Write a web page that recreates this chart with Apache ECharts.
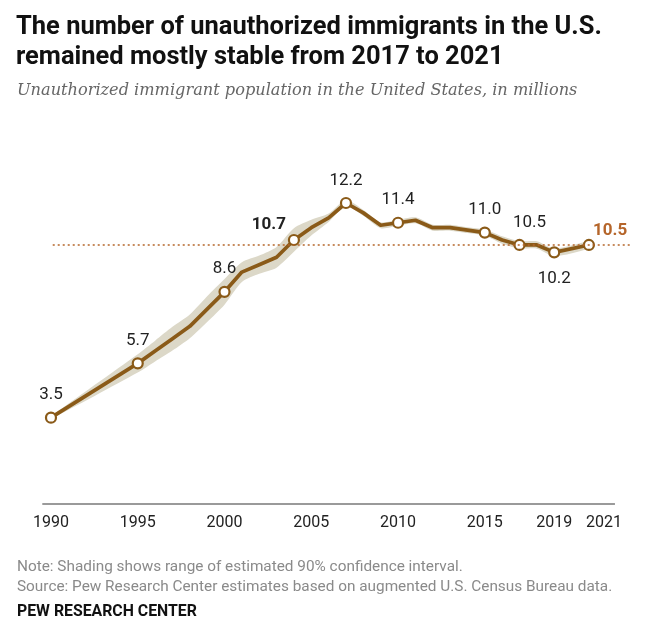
<!DOCTYPE html>
<html>
<head>
<meta charset="utf-8">
<script src="https://cdn.jsdelivr.net/npm/echarts@6/dist/echarts.min.js"></script>
<style>
  html, body { margin: 0; padding: 0; background: #fff; }
  #chart { width: 648px; height: 637px; }
</style>
</head>
<body>
<div id="chart"></div>
<script>
// years with an estimate (no annual points between 1990 and 1995, none for 2020)
var years  = [1990, 1995, 1996, 1997, 1998, 1999, 2000, 2001, 2002, 2003, 2004, 2005, 2006, 2007, 2008, 2009, 2010, 2011, 2012, 2013, 2014, 2015, 2016, 2017, 2018, 2019, 2021];
var values = [3.5, 5.7, 6.2, 6.7, 7.2, 7.9, 8.6, 9.4, 9.7, 10.0, 10.7, 11.2, 11.6, 12.2, 11.8, 11.3, 11.4, 11.5, 11.2, 11.2, 11.1, 11.0, 10.7, 10.5, 10.5, 10.2, 10.5];
// 90% confidence interval bounds
var ciLow  = [3.45, 5.33, 5.78, 6.22, 6.72, 7.38, 8.08, 9.0, 9.33, 9.58, 10.22, 10.88, 11.43, 12.08, 11.68, 11.18, 11.28, 11.38, 11.08, 11.08, 10.98, 10.87, 10.55, 10.35, 10.35, 10.05, 10.37];
var ciHigh = [3.55, 6.07, 6.62, 7.18, 7.68, 8.42, 9.12, 9.8, 10.07, 10.42, 11.18, 11.52, 11.77, 12.32, 11.92, 11.42, 11.52, 11.62, 11.32, 11.32, 11.22, 11.13, 10.85, 10.65, 10.65, 10.35, 10.63];
var tickYears = [1990, 1995, 2000, 2005, 2010, 2015, 2019, 2021];
var labeledYears = [1990, 1995, 2000, 2004, 2007, 2010, 2015, 2017, 2019, 2021];
var referenceValue = 10.5;

var brown = '#8a5a18';
var rust = '#b5652a';

var titleText = 'The number of unauthorized immigrants in the U.S.\nremained mostly stable from 2017 to 2021';
var subText = 'Unauthorized immigrant population in the United States, in millions';
var noteText = 'Note: Shading shows range of estimated 90% confidence interval.\nSource: Pew Research Center estimates based on augmented U.S. Census Bureau data.';
var creditText = 'PEW RESEARCH CENTER';

// pick a font size so the first line of a text is about as wide as in the picture
var measureCtx = document.createElement('canvas').getContext('2d');
function fitSize(text, font, target) {
	measureCtx.font = font.replace('SIZE', '100px');
	return 100 * target / measureCtx.measureText(text.split('\n')[0]).width;
}

var dom = document.getElementById('chart');
var myChart = echarts.init(dom);

var lineData = [];
for (var i = 0; i < years.length; i++) {
	var y = years[i];
	var item = { value: [y, values[i]] };
	if (labeledYears.indexOf(y) >= 0) {
		item.symbol = 'circle';
		item.symbolSize = 10;
		item.label = { show: true, position: 'top', distance: 8 };
		if (y === 2004) { item.label.offset = [-25, 7]; item.label.fontWeight = 'bold'; }
		if (y === 2017) item.label.offset = [10, 0];
		if (y === 2019) { item.label.position = 'bottom'; item.label.distance = 12; }
		if (y === 2021) {
			item.label.position = 'right';
			item.label.distance = 0;
			item.label.offset = [-2, -14];
			item.label.color = rust;
			item.label.fontWeight = 'bold';
		}
	} else {
		item.symbol = 'none';
	}
	lineData.push(item);
}

var option = {
	backgroundColor: '#fff',
	animation: false,
	title: [
		{
			text: titleText,
			left: 11, top: 8,
			textStyle: {
				fontFamily: 'Roboto', fontWeight: 'bold',
				fontSize: fitSize(titleText, 'bold SIZE Roboto', 586),
				lineHeight: 30, color: '#111'
			}
		},
		{
			text: subText,
			left: 12, top: 78,
			textStyle: {
				fontFamily: 'DejaVu Serif', fontStyle: 'italic', fontWeight: 'normal',
				fontSize: fitSize(subText, 'italic SIZE "DejaVu Serif"', 561), color: '#666'
			}
		},
		{
			text: noteText,
			left: 12, top: 552,
			textStyle: {
				fontFamily: 'Roboto', fontWeight: 'normal',
				fontSize: fitSize(noteText, 'SIZE Roboto', 446),
				lineHeight: 20, color: '#8a8a8a'
			}
		},
		{
			text: creditText,
			left: 12, top: 599,
			textStyle: {
				fontFamily: 'Roboto', fontWeight: 'bold',
				fontSize: fitSize(creditText, 'bold SIZE Roboto', 180), color: '#111'
			}
		}
	],
	grid: { left: 42.3, right: 15.7, top: 158.6, bottom: 133 },
	xAxis: {
		type: 'value',
		min: 1989.5,
		max: 2023.5,
		splitLine: { show: false },
		axisLine: { show: false },
		axisTick: { show: false },
		axisLabel: {
			customValues: tickYears,
			margin: 11,
			fontFamily: 'Roboto', fontSize: 16, color: '#222',
			formatter: function (v) {
				return v === 2021 ? '{s|' + v + '}' : String(v);
			},
			rich: {
				s: { padding: [0, 0, 0, 30], fontFamily: 'Roboto', fontSize: 16, color: '#222' }
			}
		}
	},
	yAxis: {
		type: 'value',
		min: 0,
		max: 14,
		show: false,
		splitLine: { show: false }
	},
	series: [
		{
			// confidence band: one polygon through the upper bounds and back along the lower ones
			name: 'ci',
			type: 'custom',
			data: [[years[0], values[0]]],
			silent: true,
			clip: false,
			z: 1,
			renderItem: function (params, api) {
				var pts = [];
				for (var k = 0; k < years.length; k++) pts.push(api.coord([years[k], ciHigh[k]]));
				for (var k = years.length - 1; k >= 0; k--) pts.push(api.coord([years[k], ciLow[k]]));
				return {
					type: 'polygon',
					shape: { points: pts, smooth: 0.25 },
					style: { fill: '#dcd8c8' }
				};
			}
		},
		{
			name: 'Unauthorized immigrants',
			type: 'line',
			data: lineData,
			showAllSymbol: true,
			symbol: 'circle',
			symbolSize: 10,
			lineStyle: { color: brown, width: 3.7, join: 'round', cap: 'round' },
			itemStyle: { color: '#fff', borderColor: brown, borderWidth: 2.2 },
			label: {
				fontFamily: 'Roboto', fontSize: 17, color: '#222',
				formatter: function (p) { return p.value[1].toFixed(1); }
			},
			z: 3,
			markLine: {
				silent: true,
				symbol: 'none',
				label: { show: false },
				data: [
					[
						{ coord: [1990.1, referenceValue], lineStyle: { color: rust, type: [2, 3], width: 1.6 } },
						{ coord: [2023.5, referenceValue] }
					],
					[
						{ coord: [1989.5, 0], lineStyle: { color: '#9a9a9a', type: 'solid', width: 2.2 } },
						{ coord: [2022.5, 0] }
					]
				]
			}
		}
	]
};

if (option && typeof option === "object") {
	myChart.setOption(option, true);
}
</script>
</body>
</html>
